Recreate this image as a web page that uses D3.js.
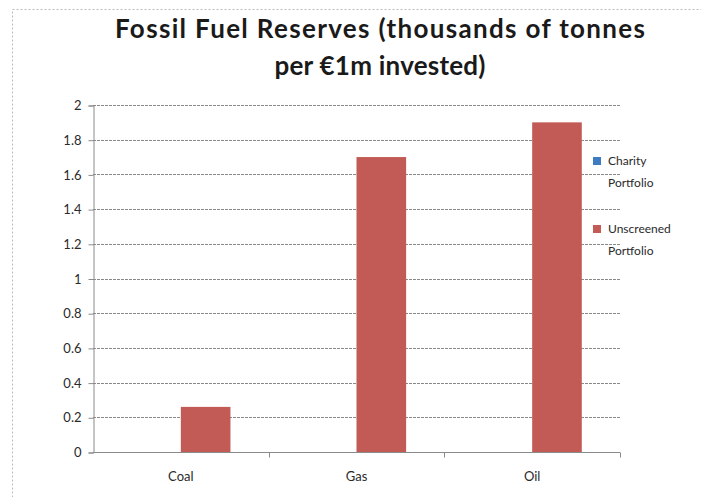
<!DOCTYPE html>
<html>
<head>
<meta charset="utf-8">
<script src="https://cdn.jsdelivr.net/npm/d3@7"></script>
<style>
  body { margin: 0; background: #fff; }
  svg { display: block; }
</style>
</head>
<body>
<script>
// chart values
const categories = ["Coal", "Gas", "Oil"];
const seriesNames = ["Charity Portfolio", "Unscreened Portfolio"];
const charityValues = [0, 0, 0];
const unscreenedValues = [0.26, 1.7, 1.9];
const yTicks = [0, 0.2, 0.4, 0.6, 0.8, 1, 1.2, 1.4, 1.6, 1.8, 2];
const titleLines = ["Fossil Fuel Reserves (thousands of tonnes", "per €1m invested)"];

const W = 701, H = 497;
const plotLeft = 93, plotRight = 620, plotTop = 105, plotBottom = 452;
const colors = ["#3d7cc0", "#c25b56"];
const font = "Lato, 'Open Sans', sans-serif";

const svg = d3.select("body").append("svg").attr("width", W).attr("height", H);

// chart border (dotted, only top/left visible)
svg.append("rect")
  .attr("x", 12.5).attr("y", 9.5).attr("width", 760).attr("height", 560)
  .attr("fill", "none").attr("stroke", "#bbb").attr("stroke-dasharray", "2,2");

// title, stretched a little to match the wider original face
const titleWidths = [530, 211];
titleLines.forEach((t, i) => {
  svg.append("text")
    .attr("x", 380).attr("y", 38 + i * 37)
    .attr("text-anchor", "middle")
    .attr("font-family", font).attr("font-weight", "bold")
    .attr("font-size", 26).attr("fill", "#1a1a1a")
    .attr("textLength", titleWidths[i]).attr("lengthAdjust", "spacing")
    .text(t);
});

let yScale = d3.scaleLinear().domain([0, 2]).range([plotBottom, plotTop]);
let xScale = d3.scaleBand().domain(categories).range([plotLeft, plotRight]);
// two bars per group, gap width 150%
let inner = d3.scaleBand().domain(seriesNames).range([0, xScale.bandwidth()]).paddingOuter(0.77);

// gridlines
svg.append("g").selectAll("line")
  .data(yTicks.filter(d => d > 0))
  .enter().append("line")
  .attr("x1", plotLeft).attr("x2", plotRight)
  .attr("y1", d => Math.round(yScale(d)) + 0.5).attr("y2", d => Math.round(yScale(d)) + 0.5)
  .attr("stroke", "#8a8a8a").attr("stroke-dasharray", "3,1");

// bars
const rows = categories.map((c, i) => [
  { cat: c, s: seriesNames[0], v: charityValues[i] },
  { cat: c, s: seriesNames[1], v: unscreenedValues[i] }
]).flat();

svg.append("g").selectAll("rect")
  .data(rows)
  .enter().append("rect")
  .attr("x", d => xScale(d.cat) + inner(d.s))
  .attr("width", inner.bandwidth())
  .attr("y", d => yScale(d.v))
  .attr("height", d => yScale(0) - yScale(d.v))
  .attr("fill", d => colors[seriesNames.indexOf(d.s)]);

// y axis
const yAxis = d3.axisLeft(yScale).tickValues(yTicks).tickSize(5).tickPadding(7).tickFormat(d3.format("~g"));
const gy = svg.append("g").attr("transform", "translate(" + (plotLeft + 0.5) + ",0.5)").call(yAxis);
gy.select(".domain").attr("stroke", "#8a8a8a");
gy.selectAll(".tick line").attr("stroke", "#8a8a8a");
gy.selectAll("text").attr("font-family", font).attr("font-size", 13).attr("fill", "#2a2a2a");

// x axis
const gx = svg.append("g").attr("transform", "translate(0," + (plotBottom + 0.5) + ")");
gx.append("line").attr("x1", plotLeft).attr("x2", plotRight).attr("stroke", "#8a8a8a");
gx.selectAll(".tk")
  .data(categories)
  .enter().append("line")
  .attr("x1", d => Math.round(xScale(d) + xScale.bandwidth()) + 0.5)
  .attr("x2", d => Math.round(xScale(d) + xScale.bandwidth()) + 0.5)
  .attr("y1", 0).attr("y2", 5).attr("stroke", "#8a8a8a");
gx.selectAll("text")
  .data(categories)
  .enter().append("text")
  .attr("x", d => xScale(d) + xScale.bandwidth() / 2)
  .attr("y", 28)
  .attr("text-anchor", "middle")
  .attr("font-family", font).attr("font-size", 13).attr("fill", "#2a2a2a")
  .text(d => d);

// legend
const legend = svg.append("g").attr("transform", "translate(593,0)");
const legendY = [161, 229];
seriesNames.forEach((name, i) => {
  legend.append("rect")
    .attr("x", 0).attr("y", legendY[i] - 4).attr("width", 8).attr("height", 8)
    .attr("fill", colors[i]);
  const words = name.split(" ");
  words.forEach((w, j) => {
    legend.append("text")
      .attr("x", 15).attr("y", legendY[i] + 4 + j * 22)
      .attr("font-family", font).attr("font-size", 12).attr("fill", "#2a2a2a")
      .text(w);
  });
});
</script>
</body>
</html>
